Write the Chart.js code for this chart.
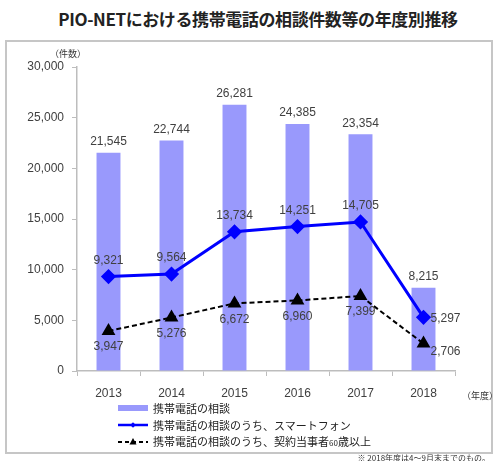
<!DOCTYPE html>
<html>
<head>
<meta charset="utf-8">
<script src="https://cdn.jsdelivr.net/npm/chart.js@4/dist/chart.umd.min.js"></script>
<style>
  body { margin: 0; background: #fff; }
  #wrap { position: relative; width: 494px; height: 461px; overflow: hidden; font-family: "Noto Sans CJK JP", sans-serif; color: #222; }
  #title { position: absolute; left: 0; width: 516px; top: 6px; text-align: center; font-size: 17px; font-weight: bold; letter-spacing: -0.4px; }
  #box { position: absolute; left: 5px; top: 40px; width: 484px; height: 410px; border: 2px solid #c6c6c6; }
  canvas { position: absolute; left: 0; top: 0; }
  .unit { position: absolute; font-size: 9px; color: #333; }
  #legend { position: absolute; left: 118px; top: 400px; font-size: 11px; line-height: 16.5px; }
  #legend div { display: flex; align-items: center; white-space: nowrap; }
  #legend svg { margin-right: 5px; }
  #note { position: absolute; right: 4px; top: 452px; font-size: 8px; color: #333; }
</style>
</head>
<body>
<div id="wrap">
  <div id="box"></div>
  <div id="title">PIO-NETにおける携帯電話の相談件数等の年度別推移</div>
  <canvas id="c" width="494" height="461"></canvas>
  <div class="unit" style="left:50px;top:47px;">（件数）</div>
  <div class="unit" style="left:462px;top:389px;">（年度）</div>
  <div id="legend"></div>
  <div id="note">※ 2018年度は4～9月末までのもの。</div>
</div>
<script>
const years = ['2013', '2014', '2015', '2016', '2017', '2018'];
const consultations = [21545, 22744, 26281, 24385, 23354, 8215];
const smartphone = [9321, 9564, 13734, 14251, 14705, 5297];
const over60 = [3947, 5276, 6672, 6960, 7399, 2706];
const seriesNames = ['携帯電話の相談', '携帯電話の相談のうち、スマートフォン', '携帯電話の相談のうち、契約当事者60歳以上'];

const barColour = '#9999fc';
const blue = '#0000ff';
const textColour = '#404040';
const numFont = '12px "Liberation Sans", Arial, sans-serif';

// value labels: bars above, lines above/below, last point to the right
const valueLabels = {
  id: 'valueLabels',
  afterDatasetsDraw(chart) {
    const ctx = chart.ctx;
    ctx.save();
    ctx.font = numFont;
    ctx.fillStyle = textColour;
    ctx.textBaseline = 'middle';
    chart.data.datasets.forEach((ds, di) => {
      const meta = chart.getDatasetMeta(di);
      meta.data.forEach((el, i) => {
        const txt = ds.data[i].toLocaleString('en-US');
        const last = i === ds.data.length - 1;
        if (ds.type === 'bar') {
          ctx.textAlign = 'center';
          ctx.fillText(txt, el.x, el.y - 11);
        } else if (last) {
          ctx.textAlign = 'left';
          ctx.fillText(txt, el.x + 7, el.y + (ds.labelPos === 'below' ? 8 : 1));
        } else {
          ctx.textAlign = 'center';
          ctx.fillText(txt, el.x, el.y + (ds.labelPos === 'below' ? 16 : -16));
        }
      });
    });
    ctx.restore();
  }
};

const chart = new Chart(document.getElementById('c'), {
  data: {
    labels: years,
    datasets: [{
      type: 'line',
      label: seriesNames[1],
      data: smartphone,
      borderColor: blue,
      backgroundColor: blue,
      borderWidth: 3,
      pointStyle: 'rectRot',
      pointRadius: 5.5,
      tension: 0,
      order: 0,
      labelPos: 'above'
    }, {
      type: 'line',
      label: seriesNames[2],
      data: over60,
      borderColor: '#000',
      backgroundColor: '#000',
      borderWidth: 2,
      borderDash: [5, 3],
      pointStyle: 'triangle',
      pointRadius: 6,
      tension: 0,
      order: 1,
      labelPos: 'below'
    }, {
      type: 'bar',
      label: seriesNames[0],
      data: consultations,
      backgroundColor: barColour,
      categoryPercentage: 1,
      barPercentage: 0.38,
      order: 2
    }]
  },
  options: {
    responsive: false,
    animation: false,
    layout: { padding: { left: 0, right: 39, top: 67, bottom: 60 } },
    plugins: {
      legend: { display: false },
      tooltip: { enabled: false }
    },
    scales: {
      x: {
        offset: true,
        afterFit: (s) => { s.height = 30; },
        border: { color: '#bdbdbd', width: 1.5 },
        grid: { display: true, drawOnChartArea: false, offset: true, tickLength: 5, color: '#bdbdbd' },
        ticks: { color: textColour, font: { family: '"Liberation Sans", Arial', size: 12 }, padding: 10 }
      },
      y: {
        min: 0,
        max: 30000,
        afterFit: (s) => { s.width = 77; },
        border: { color: '#bdbdbd', width: 1.5 },
        grid: { display: true, drawOnChartArea: false, tickLength: 5, color: '#bdbdbd' },
        ticks: {
          stepSize: 5000,
          color: textColour,
          padding: 8,
          font: { family: '"Liberation Sans", Arial', size: 12 },
          callback: (v) => v.toLocaleString('en-US')
        }
      }
    }
  },
  plugins: [valueLabels]
});

// legend under the chart
const legendMarks = [
  '<svg width="30" height="10"><rect x="0" y="2" width="30" height="6" fill="' + barColour + '"/></svg>',
  '<svg width="30" height="10"><line x1="0" y1="5" x2="30" y2="5" stroke="' + blue + '" stroke-width="2.5"/><rect x="13" y="3" width="4" height="4" fill="' + blue + '" transform="rotate(45 15 5)"/></svg>',
  '<svg width="30" height="10"><line x1="0" y1="5" x2="30" y2="5" stroke="#000" stroke-width="2" stroke-dasharray="4 3"/><polygon points="15,1 18.5,7.5 11.5,7.5" fill="#000"/></svg>'
];
document.getElementById('legend').innerHTML = seriesNames.map((name, i) =>
  '<div>' + legendMarks[i] + '<span>' + name.replace('60', '<span style="font-size:8px">60</span>') + '</span></div>'
).join('');
</script>
</body>
</html>
